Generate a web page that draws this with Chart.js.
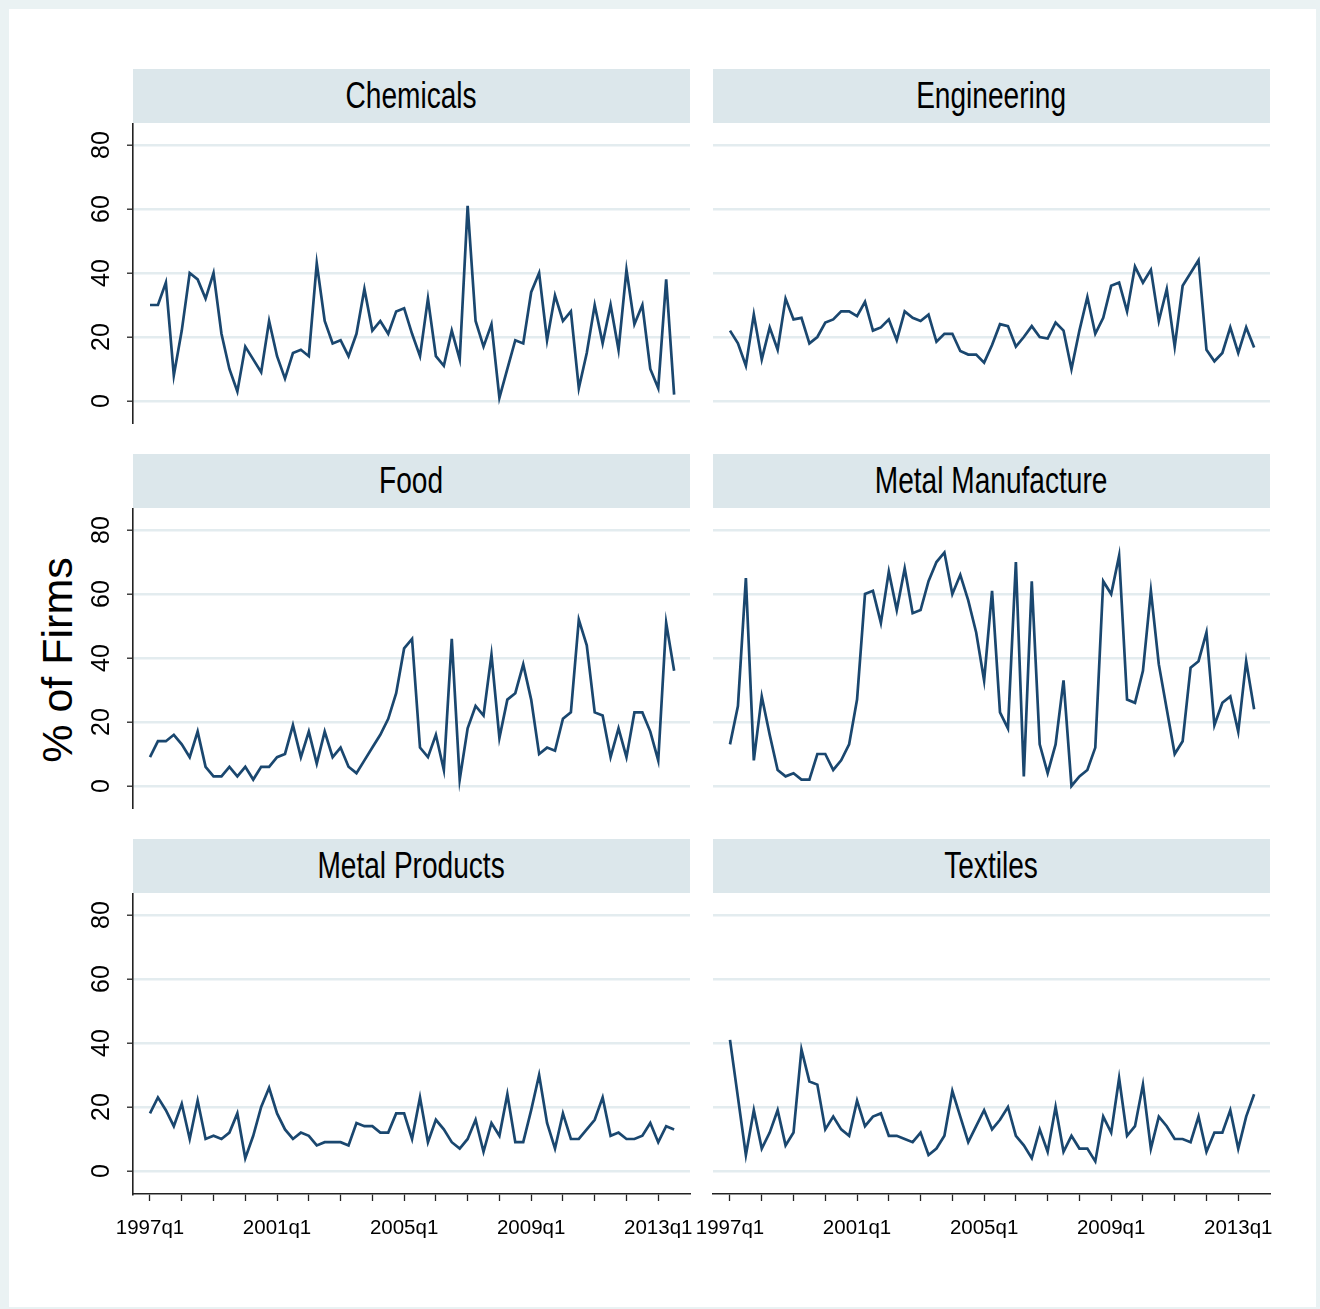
<!DOCTYPE html>
<html>
<head>
<meta charset="utf-8">
<script src="https://cdn.jsdelivr.net/npm/chart.js@4.4.1/dist/chart.umd.min.js"></script>
<style>
html,body{margin:0;padding:0;}
body{width:1320px;height:1309px;background:#eaf2f3;position:relative;overflow:hidden;}
#frame{position:absolute;left:9px;top:9px;width:1307px;height:1298px;background:#ffffff;}
.hdr{position:absolute;height:54px;width:557px;background:#dce7eb;text-align:center;line-height:54px;
  font-family:"Liberation Sans",Arial,sans-serif;font-size:36px;color:#000;}
.hdr span{display:inline-block;transform:scaleX(0.78);transform-origin:center;white-space:nowrap;}
canvas{position:absolute;}
#ytitle{position:absolute;left:57px;top:660px;transform:translate(-50%,-50%) rotate(-90deg);
  white-space:nowrap;font-family:"Liberation Sans",Arial,sans-serif;font-size:43px;color:#000;}
</style>
</head>
<body>
<div id="frame"></div>
<div id="ytitle">% of Firms</div>
<script>
// ---- data ----
const startYear = 1997;
const nQuarters = 67; // 1997q1 .. 2013q3
const periods = [];
for (let i = 0; i < nQuarters; i++) periods.push((startYear + Math.floor(i / 4)) + 'q' + (i % 4 + 1));

const panelTitles = ['Chemicals', 'Engineering', 'Food', 'Metal Manufacture', 'Metal Products', 'Textiles'];

const chemicals = [30,30,37,8,22,40,38,32,40,21,10,3,17,13,9,25,14,7,15,16,14,43,25,18,19,14,21,35,22,25,21,28,29,21,14,32,14,11,22,13,61,25,17,24,1,10,19,18,34,40,19,33,25,28,4,15,30,18,30,16,41,24,30,10,4,38,2];
const engineering = [22,18,11,27,13,23,16,32,25.5,26,18,20,24.5,25.5,28,28,26.5,31,22,23,25.5,19,28,26,25,27,18.5,21,21,15.6,14.5,14.5,12,17.5,24,23.4,17,20,23.4,20,19.5,24.5,22,10,22,32.5,21,26,36,37,28,42,37,41,25,35,17,36,40,44,16,12.4,15,23,15,23,16.7];
const food = [9,14,14,16,13,9,17,6,3,3,6,3,6,2,6,6,9,10,19,9,17,7,17,9,12,6,4,8,12,16,21,29,43,46,12,9,16,5,46,2,18,25,22,41,15,27,29,38,27,10,12,11,21,23,52,44,23,22,9,18,9,23,23,17,8,51,36];
const metalManufacture = [13,25,65,8,28,16,5,3,4,2,2,10,10,5,8,13,27,60,61,51,67,55,68,54,55,64,70,73,60,66,58,48,33,61,23,18,70,3,64,13,4,13,33,0,3,5,12,64,60,72,27,26,36,61,38,24,10,14,37,39,48,19,26,28,17,39,24];
const metalProducts = [18,23,19,14,21,10,22,10,11,10,12,18,4,11,20,26,18,13,10,12,11,8,9,9,9,8,15,14,14,12,12,18,18,10,23,9,16,13,9,7,10,16,6,15,11,24,9,9,19,30,15,7,18,10,10,13,16,23,11,12,10,10,11,15,9,14,13];
const textiles = [41,23,5,19,7,12,19,8,12,38,28,27,13,17,13,11,22,14,17,18,11,11,10,9,12,5,7,11,25,17,9,14,19,13,16,20,11,8,4,13,6,20,6,11,7,7,3,17,12,29,11,14,27,7,17,14,10,10,9,17,6,12,12,19,7,17,24];

const yTickValues = [0, 20, 40, 60, 80];
const xMajorTickLabels = ['1997q1', '2001q1', '2005q1', '2009q1', '2013q1'];

const seriesList = [chemicals, engineering, food, metalManufacture, metalProducts, textiles];

// ---- layout ----
const LINE = '#1a476f';
const GRID = '#e3ecef';
const AXIS = '#222222';
const SANS = '"Liberation Sans",Arial,sans-serif';

function makePanel(idx) {
  const col = idx % 2, row = Math.floor(idx / 2);
  const plotLeft = col ? 713 : 133;
  const plotTop = [123, 508, 893][row];
  const plotW = 557, plotH = 301;
  const showY = col === 0, showX = row === 2;
  const yAxisW = showY ? 53 : 0;
  const xAxisH = showX ? 62 : 0;
  const padL = (col === 1 && showX) ? 23 : 0;
  const padR = showX ? 20 : 0;
  const cLeft = plotLeft - yAxisW - padL;
  const cW = yAxisW + padL + plotW + padR;
  const cH = plotH + xAxisH;

  const hdr = document.createElement('div');
  hdr.className = 'hdr';
  hdr.style.left = plotLeft + 'px';
  hdr.style.top = (plotTop - 54) + 'px';
  const sp = document.createElement('span');
  sp.textContent = panelTitles[idx];
  hdr.appendChild(sp);
  document.body.appendChild(hdr);

  const cv = document.createElement('canvas');
  cv.width = cW; cv.height = cH;
  cv.style.left = cLeft + 'px'; cv.style.top = plotTop + 'px';
  cv.style.width = cW + 'px'; cv.style.height = cH + 'px';
  document.body.appendChild(cv);

  const values = seriesList[idx];
  new Chart(cv.getContext('2d'), {
    type: 'line',
    data: {
      datasets: [{
        data: values.map((v, i) => ({ x: i, y: v })),
        borderColor: LINE,
        borderWidth: 2.7,
        pointRadius: 0,
        tension: 0,
        fill: false
      }]
    },
    options: {
      responsive: false,
      animation: false,
      devicePixelRatio: 1,
      layout: { padding: { left: padL, right: padR, top: 0, bottom: 0 } },
      plugins: { legend: { display: false }, tooltip: { enabled: false }, title: { display: false } },
      scales: {
        x: {
          type: 'linear',
          min: -2.14,
          max: 68.0,
          display: showX,
          afterBuildTicks: (s) => {
            const t = [];
            for (let v = 0; v <= 64; v += 4) t.push({ value: v });
            s.ticks = t;
          },
          afterFit: (s) => { s.height = xAxisH; s.paddingLeft = 0; s.paddingRight = 0; },
          border: { display: true, color: AXIS, width: 1.6 },
          grid: { drawOnChartArea: false, drawTicks: true, tickLength: 7, tickColor: AXIS, tickWidth: 1.3 },
          ticks: {
            autoSkip: false, maxRotation: 0, minRotation: 0, padding: 15,
            color: '#000', font: { family: SANS, size: 20.5 },
            callback: (v) => (v % 16 === 0 ? xMajorTickLabels[v / 16] : '')
          }
        },
        y: {
          type: 'linear',
          min: -7.2,
          max: 86.9,
          display: true,
          afterBuildTicks: (s) => { s.ticks = yTickValues.map(v => ({ value: v })); },
          afterFit: (s) => { s.width = yAxisW; s.paddingTop = 0; s.paddingBottom = 0; },
          border: { display: showY, color: AXIS, width: 1.6 },
          grid: { color: GRID, lineWidth: 2.4, drawTicks: showY, tickLength: 6, tickColor: AXIS, tickWidth: 1.3 },
          ticks: {
            display: showY, minRotation: 90, maxRotation: 90, crossAlign: 'center', padding: 11,
            color: '#000', font: { family: SANS, size: 25 }
          }
        }
      }
    }
  });
}

for (let i = 0; i < 6; i++) makePanel(i);
</script>
</body>
</html>
